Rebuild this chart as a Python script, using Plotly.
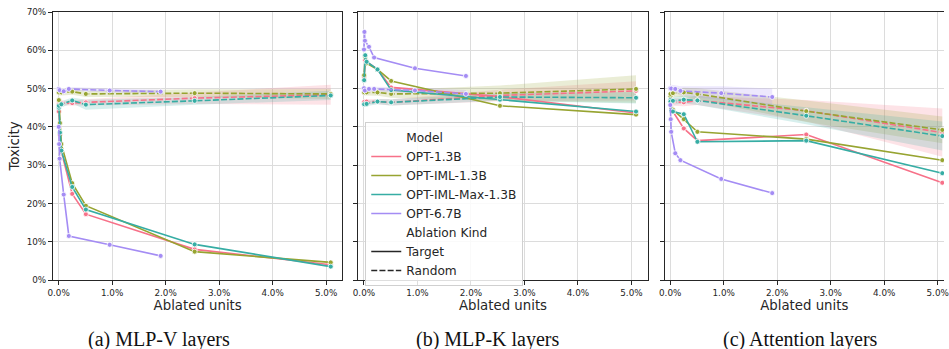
import plotly.graph_objects as go

# ---------------- data ----------------
MODELS = ["OPT-1.3B", "OPT-IML-1.3B", "OPT-IML-Max-1.3B", "OPT-6.7B"]
COLORS = ["#f77189", "#97a431", "#36ada4", "#a48cf4"]
FILLS = ["rgba(247,113,137,0.2)", "rgba(151,164,49,0.2)",
         "rgba(54,173,164,0.2)", "rgba(164,140,244,0.2)"]
CAPTIONS = ["(a) MLP-V layers", "(b) MLP-K layers", "(c) Attention layers"]

# ablated units (% of units) – 1.3B models and 6.7B model
X_TARGET_13B = [0.005, 0.025, 0.051, 0.254, 0.509, 2.543, 5.086]
X_TARGET_67B = [0.002, 0.010, 0.019, 0.095, 0.191, 0.954, 1.907]
X_RANDOM_13B = [0.005, 0.051, 0.254, 0.509, 2.543, 5.086]
X_RANDOM_67B = [0.002, 0.019, 0.095, 0.191, 0.954, 1.907]

# toxicity (%) per model, in MODELS order
MLPV_TARGET = [
    [44.0, 38.0, 33.5, 22.5, 17.2, 8.0, 4.0],
    [47.0, 41.0, 35.5, 25.3, 19.4, 7.4, 4.6],
    [45.0, 38.5, 33.8, 24.3, 18.4, 9.3, 3.5],
    [40.0, 35.5, 31.7, 22.3, 11.5, 9.2, 6.3],
]
MLPV_RANDOM = [
    [46.0, 46.2, 46.2, 46.4, 47.5, 48.4],
    [49.0, 49.0, 49.2, 48.6, 48.8, 48.6],
    [45.5, 45.9, 46.9, 45.8, 46.8, 48.2],
    [49.9, 49.6, 49.3, 49.9, 49.5, 49.2],
]
MLPV_RANDOM_CI = [
    [0.6, 0.6, 0.6, 0.8, 1.5, 2.6],
    [0.8, 0.8, 0.8, 0.8, 1.0, 1.3],
    [0.8, 0.8, 0.8, 1.3, 1.0, 1.2],
    [0.5, 0.5, 0.5, 0.5, 0.5, 0.5],
]

MLPK_TARGET = [
    [53.0, 57.4, 57.0, 55.0, 50.3, 47.9, 43.6],
    [53.5, 58.3, 56.6, 55.0, 52.0, 45.5, 43.2],
    [52.2, 58.7, 57.0, 55.0, 49.6, 47.1, 44.0],
    [60.2, 64.8, 62.5, 60.9, 58.1, 55.3, 53.3],
]
MLPK_RANDOM = [
    [46.5, 46.6, 46.6, 46.4, 48.2, 49.4],
    [49.0, 49.0, 49.0, 48.6, 48.8, 49.9],
    [45.9, 46.0, 46.6, 46.4, 47.8, 47.6],
    [50.1, 49.5, 49.9, 49.9, 49.5, 48.6],
]
MLPK_RANDOM_CI = [
    [0.6, 0.6, 0.7, 0.8, 1.5, 2.5],
    [0.8, 0.8, 0.9, 1.0, 2.0, 3.6],
    [0.6, 0.6, 0.7, 0.8, 1.0, 1.5],
    [0.5, 0.5, 0.6, 0.6, 0.8, 1.0],
]

ATTN_TARGET = [
    [46.5, 44.4, 44.0, 39.6, 36.4, 38.0, 25.4],
    [48.0, 44.8, 44.5, 42.0, 38.7, 36.8, 31.3],
    [47.0, 44.2, 44.0, 43.3, 36.1, 36.4, 27.9],
    [45.7, 42.0, 38.7, 33.1, 31.3, 26.4, 22.7],
]
ATTN_RANDOM = [
    [46.6, 46.5, 46.4, 46.9, 44.2, 38.5],
    [48.6, 48.8, 49.0, 48.6, 44.1, 39.2],
    [46.6, 46.8, 47.1, 46.9, 42.9, 37.6],
    [50.1, 50.0, 49.9, 49.4, 48.8, 47.8],
]
ATTN_RANDOM_CI = [
    [1.0, 1.0, 1.0, 1.2, 2.8, 6.3],
    [1.0, 1.0, 1.2, 1.5, 2.8, 3.5],
    [1.0, 1.0, 1.0, 1.2, 2.2, 3.8],
    [1.0, 1.0, 1.0, 1.2, 1.8, 2.2],
]

Y_TICKS = [0, 10, 20, 30, 40, 50, 60, 70]
Y_TICK_LABELS = ["0%", "10%", "20%", "30%", "40%", "50%", "60%", "70%"]
X_TICKS = [0, 1, 2, 3, 4, 5]
X_TICK_LABELS = ["0.0%", "1.0%", "2.0%", "3.0%", "4.0%", "5.0%"]

PANELS = [
    (MLPV_TARGET, MLPV_RANDOM, MLPV_RANDOM_CI),
    (MLPK_TARGET, MLPK_RANDOM, MLPK_RANDOM_CI),
    (ATTN_TARGET, ATTN_RANDOM, ATTN_RANDOM_CI),
]

# ---------------- figure ----------------
W, H = 949, 349
ML, MR, MT, MB = 53, 0, 12, 69
PW = W - ML - MR
PH = H - MT - MB
PX_PER_PCT = 53.8
X0 = -0.105

dom_px = [(0, 291), (307, 598), (615, 896)]
domains = [[a / PW, b / PW] for a, b in dom_px]
xranges = [[X0, X0 + (b - a) / PX_PER_PCT] for a, b in dom_px]

fig = go.Figure()
TICKFONT = dict(family="DejaVu Sans", size=8.8, color="#262626")
DASH = "6px,2.2px"

for p, (tgt, rnd, ci) in enumerate(PANELS):
    xa = "x" if p == 0 else f"x{p+1}"
    ya = "y" if p == 0 else f"y{p+1}"
    # confidence bands for random ablations
    for m in range(4):
        xr = X_RANDOM_67B if m == 3 else X_RANDOM_13B
        up = [v + c for v, c in zip(rnd[m], ci[m])]
        lo = [v - c for v, c in zip(rnd[m], ci[m])]
        fig.add_trace(go.Scatter(x=xr, y=up, xaxis=xa, yaxis=ya, mode="lines",
                                 line=dict(width=0, color=COLORS[m]),
                                 showlegend=False, hoverinfo="skip"))
        fig.add_trace(go.Scatter(x=xr, y=lo, xaxis=xa, yaxis=ya, mode="lines",
                                 line=dict(width=0, color=COLORS[m]),
                                 fill="tonexty", fillcolor=FILLS[m],
                                 showlegend=False, hoverinfo="skip"))
    for m in range(4):
        xt = X_TARGET_67B if m == 3 else X_TARGET_13B
        xr = X_RANDOM_67B if m == 3 else X_RANDOM_13B
        fig.add_trace(go.Scatter(
            x=xt, y=tgt[m], xaxis=xa, yaxis=ya, mode="lines+markers",
            line=dict(color=COLORS[m], width=1.6),
            marker=dict(size=5, color=COLORS[m], line=dict(color="white", width=0.8)),
            showlegend=False, name=MODELS[m] + " Target"))
        fig.add_trace(go.Scatter(
            x=xr, y=rnd[m], xaxis=xa, yaxis=ya, mode="lines+markers",
            line=dict(color=COLORS[m], width=1.6, dash=DASH),
            marker=dict(size=5, color=COLORS[m], line=dict(color="white", width=0.8)),
            showlegend=False, name=MODELS[m] + " Random"))

# legend entries (drawn in the middle panel)
def legend_entry(name, color, dash="solid"):
    fig.add_trace(go.Scatter(x=[None], y=[None], xaxis="x2", yaxis="y2",
                             mode="lines", name=name,
                             line=dict(color=color, width=1.6, dash=dash),
                             showlegend=True))

legend_entry("Model", "rgba(0,0,0,0)")
for m in range(4):
    legend_entry(MODELS[m], COLORS[m])
legend_entry("Ablation Kind", "rgba(0,0,0,0)")
legend_entry("Target", "#262626")
legend_entry("Random", "#262626", DASH)

axis_common = dict(showgrid=True, gridcolor="#dcdcdc", gridwidth=1,
                   showline=True, linecolor="#262626", linewidth=1,
                   ticks="outside", ticklen=4, tickcolor="#262626", tickwidth=1,
                   zeroline=False, tickfont=TICKFONT, ticklabeloverflow="allow")

layout = dict(
    width=W, height=H,
    margin=dict(l=ML, r=MR, t=MT, b=MB, pad=0),
    plot_bgcolor="white", paper_bgcolor="white",
    showlegend=True,
    legend=dict(x=(367 - ML) / PW, y=(PH + MT - 122) / PH, xanchor="left", yanchor="top",
                bgcolor="rgba(255,255,255,0.85)", bordercolor="#d0d0d0", borderwidth=1,
                font=dict(family="DejaVu Sans", size=12.2, color="#262626"),
                traceorder="normal", tracegroupgap=0),
)

for p in range(3):
    xk = "xaxis" if p == 0 else f"xaxis{p+1}"
    yk = "yaxis" if p == 0 else f"yaxis{p+1}"
    ya = "y" if p == 0 else f"y{p+1}"
    xa = "x" if p == 0 else f"x{p+1}"
    layout[xk] = dict(axis_common, domain=domains[p], range=xranges[p], anchor=ya,
                      tickmode="array", tickvals=X_TICKS, ticktext=X_TICK_LABELS,
                      mirror=True,
                      title=dict(text="Ablated units", standoff=3,
                                 font=dict(family="DejaVu Sans", size=13.3, color="#262626")))
    ydict = dict(axis_common, domain=[0, 1], range=[0, 70], anchor=xa,
                 tickmode="array", tickvals=Y_TICKS, ticktext=Y_TICK_LABELS,
                 mirror=(p < 2), showticklabels=(p == 0))
    if p == 0:
        ydict["title"] = dict(text="Toxicity", standoff=4,
                              font=dict(family="DejaVu Sans", size=13.3, color="#262626"))
    layout[yk] = ydict

fig.update_layout(**layout)

cap_x = [160, 490, 805]
for cx, txt in zip(cap_x, CAPTIONS):
    fig.add_annotation(text=txt, x=(cx - ML) / PW, y=(PH + MT - 339) / PH,
                       xref="paper", yref="paper", xanchor="center", yanchor="middle",
                       showarrow=False,
                       font=dict(family="Liberation Serif", size=20, color="#111111"))

fig.write_html("out.html")
